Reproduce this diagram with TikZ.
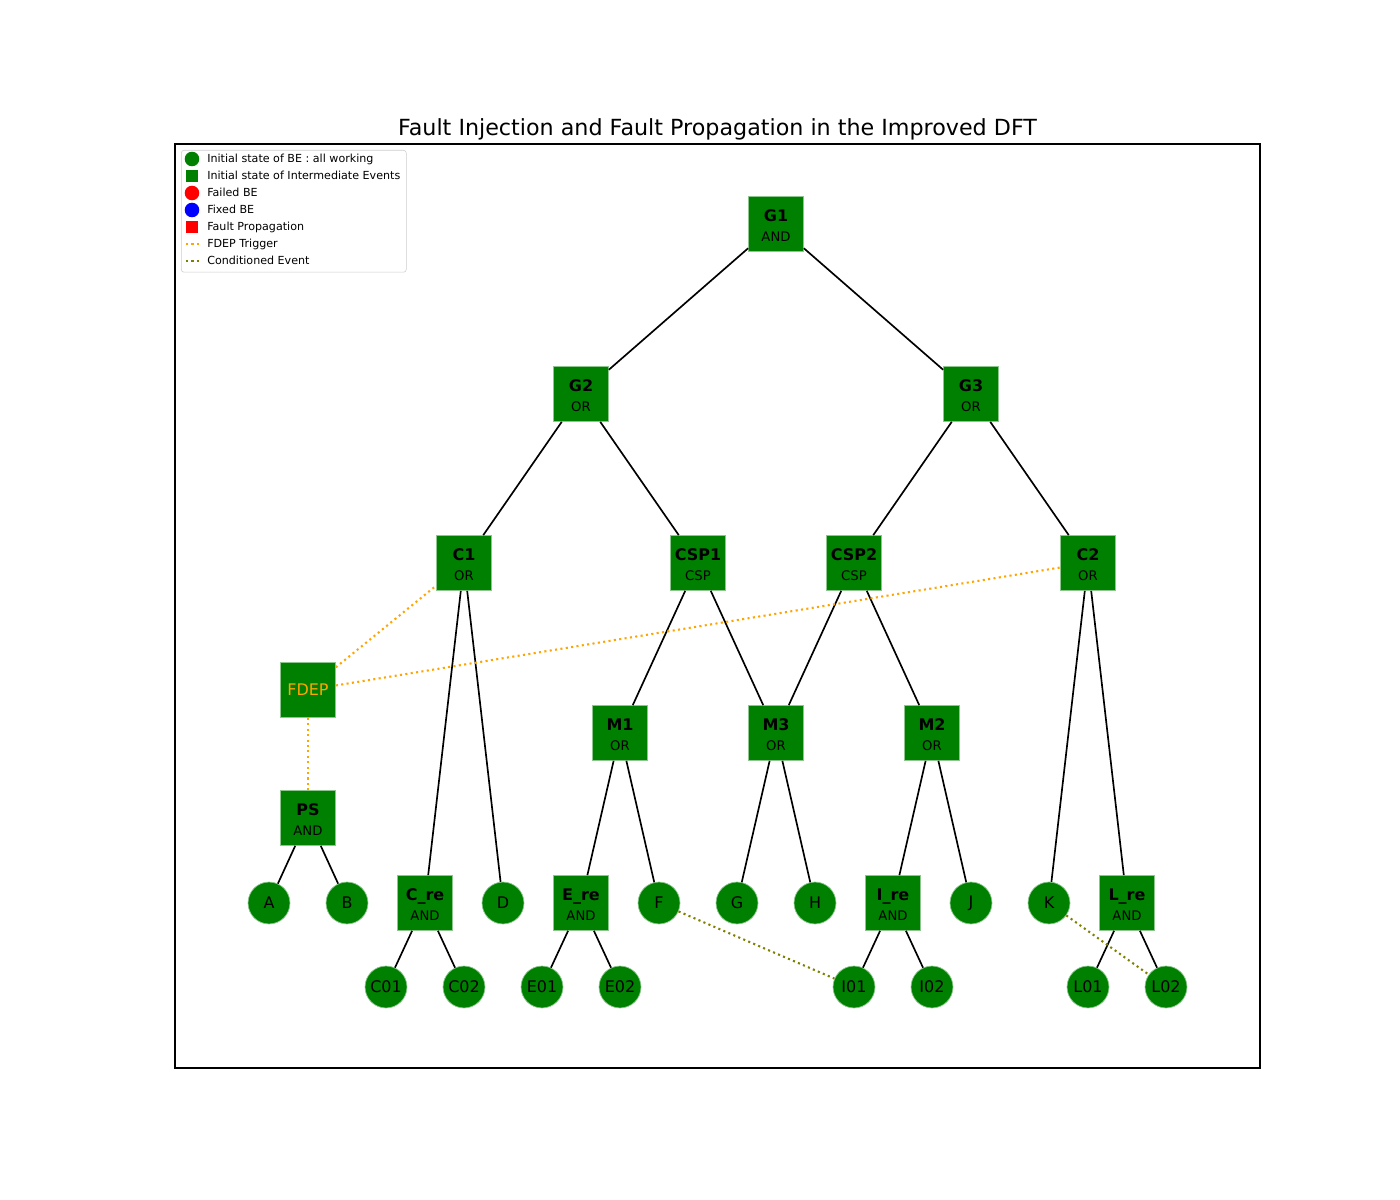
\documentclass[tikz,border=0pt]{standalone}
\usepackage{fontspec}
\setmainfont{DejaVu Sans}
\definecolor{mgreen}{HTML}{008000}
\definecolor{morange}{HTML}{FFA500}
\definecolor{molive}{HTML}{808000}
\newcommand\gatenode[5]{%
  \node[gate] (#1) at (#2,#3) {};
  \node[gname] (#1-n) at ([yshift=1.6pt]#1.center) {#4};
  \node[gtype] (#1-t) at ([yshift=-12.6pt]#1.center) {#5};
}
\begin{document}
\begin{tikzpicture}[x=0.72pt,y=-0.72pt,
  gate/.style={rectangle, fill=mgreen, draw=mgreen!45!white, line width=0.5pt, minimum size=39.6pt, inner sep=0pt},
  be/.style={circle, fill=mgreen, draw=mgreen!45!white, line width=0.5pt, minimum size=30.2pt, inner sep=0pt, font=\fontsize{11.5}{13}\selectfont},
  gname/.style={anchor=base, inner sep=0pt, font=\bfseries\fontsize{11.5}{13}\selectfont},
  gtype/.style={anchor=base, inner sep=0pt, font=\fontsize{9.5}{11}\selectfont},
  edge/.style={line width=1.2pt},
  fdep/.style={draw=morange, line width=1.5pt, dash pattern=on 1.5pt off 2.4pt},
  cond/.style={draw=molive, line width=1.5pt, dash pattern=on 1.5pt off 2.4pt},
  legtext/.style={anchor=base west, inner sep=0pt, font=\fontsize{8}{9.5}\selectfont},
]
\useasboundingbox (0,0) rectangle (1400,1200);
% axes frame
\draw[line width=0.8pt] (175,144) rectangle (1260,1068);
% title
\node[anchor=base, inner sep=0pt, font=\fontsize{16}{19}\selectfont] (title) at (717.5,136) {Fault Injection and Fault Propagation in the Improved DFT};

% gates
\gatenode{G1}{776}{224}{G1}{AND}
\gatenode{G2}{581}{394}{G2}{OR}
\gatenode{G3}{971}{394}{G3}{OR}
\gatenode{C1}{464}{563}{C1}{OR}
\gatenode{CSP1}{698}{563}{CSP1}{CSP}
\gatenode{CSP2}{854}{563}{CSP2}{CSP}
\gatenode{C2}{1088}{563}{C2}{OR}
\gatenode{M1}{620}{733}{M1}{OR}
\gatenode{M3}{776}{733}{M3}{OR}
\gatenode{M2}{932}{733}{M2}{OR}
\gatenode{PS}{308}{818}{PS}{AND}
\gatenode{Cre}{425}{903}{C\_re}{AND}
\gatenode{Ere}{581}{903}{E\_re}{AND}
\gatenode{Ire}{893}{903}{I\_re}{AND}
\gatenode{Lre}{1127}{903}{L\_re}{AND}
\node[gate, text=morange, font=\fontsize{11.5}{13}\selectfont] (FDEP) at (308,690) {FDEP};

% basic events
\node[be] (A) at (269,903) {A};
\node[be] (B) at (347,903) {B};
\node[be] (D) at (503,903) {D};
\node[be] (F) at (659,903) {F};
\node[be] (G) at (737,903) {G};
\node[be] (H) at (815,903) {H};
\node[be] (J) at (971,903) {J};
\node[be] (K) at (1049,903) {K};
\node[be] (C01) at (386,987) {C01};
\node[be] (C02) at (464,987) {C02};
\node[be] (E01) at (542,987) {E01};
\node[be] (E02) at (620,987) {E02};
\node[be] (I01) at (854,987) {I01};
\node[be] (I02) at (932,987) {I02};
\node[be] (L01) at (1088,987) {L01};
\node[be] (L02) at (1166,987) {L02};

% edges
\foreach \a/\b in {G1/G2, G1/G3, G2/C1, G2/CSP1, G3/CSP2, G3/C2, C1/Cre, C1/D,
  CSP1/M1, CSP1/M3, CSP2/M3, CSP2/M2, C2/K, C2/Lre, M1/Ere, M1/F, M3/G, M3/H,
  M2/Ire, M2/J, PS/A, PS/B, Cre/C01, Cre/C02, Ere/E01, Ere/E02, Ire/I01, Ire/I02,
  Lre/L01, Lre/L02}
  \draw[edge] (\a) -- (\b);
% dependencies
\draw[fdep] (FDEP) -- (C1);
\draw[fdep] (FDEP) -- (C2);
\draw[fdep] (FDEP) -- (PS);
\draw[cond] (F) -- (I01);
\draw[cond] (K) -- (L02);

% legend
\node[draw=black!20, fill=white, rounded corners=2pt, minimum width=162pt, minimum height=87.8pt, anchor=north west, inner sep=0pt] (legend) at (181,150) {};
\node[circle, fill=mgreen, minimum size=10.5pt, inner sep=0pt] (lm1) at (192,159) {};
\node[rectangle, fill=mgreen, minimum size=9pt, inner sep=0pt] (lm2) at (192,176) {};
\node[circle, fill=red, minimum size=10.5pt, inner sep=0pt] (lm3) at (192,193) {};
\node[circle, fill=blue, minimum size=10.5pt, inner sep=0pt] (lm4) at (192,210) {};
\node[rectangle, fill=red, minimum size=9pt, inner sep=0pt] (lm5) at (192,227) {};
\coordinate (lm6a) at (186,244); \coordinate (lm6b) at (200,244);
\coordinate (lm7a) at (186,261); \coordinate (lm7b) at (200,261);
\draw[fdep, line width=1.3pt] (lm6a) -- (lm6b);
\draw[cond, line width=1.3pt] (lm7a) -- (lm7b);
\node[legtext] (lt1) at (207,162.5) {Initial state of BE : all working};
\node[legtext] (lt2) at (207,179.5) {Initial state of Intermediate Events};
\node[legtext] (lt3) at (207,196.5) {Failed BE};
\node[legtext] (lt4) at (207,213.5) {Fixed BE};
\node[legtext] (lt5) at (207,230.5) {Fault Propagation};
\node[legtext] (lt6) at (207,247.5) {FDEP Trigger};
\node[legtext] (lt7) at (207,264.5) {Conditioned Event};
\end{tikzpicture}
\end{document}
